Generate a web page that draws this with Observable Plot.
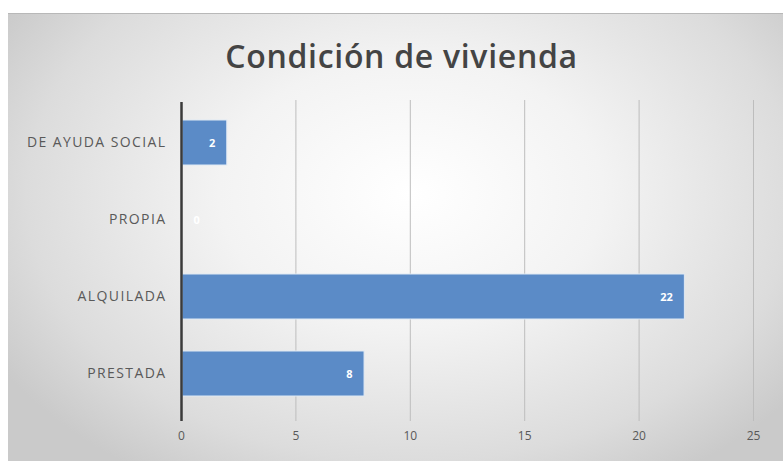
<!DOCTYPE html>
<html>
<head>
<meta charset="utf-8">
<script src="https://cdn.jsdelivr.net/npm/d3@7"></script>
<script src="https://cdn.jsdelivr.net/npm/@observablehq/plot@0.6"></script>
<style>
  html, body { margin: 0; padding: 0; background: #ffffff; }
  #frame {
    position: absolute; left: 8px; top: 13px; width: 775px; height: 448px;
    border-top: 1px solid #b8b8b8;
    background: radial-gradient(ellipse 62% 75% at 52% 40%, #ffffff 0%, #f3f3f3 40%, #dcdcdc 80%, #cacaca 100%);
    overflow: hidden;
  }
  #title {
    height: 66px; box-sizing: border-box; padding-top: 24px;
    text-align: center; font-family: "Open Sans", sans-serif; font-size: 32px;
    font-weight: 600;
    color: #444444; letter-spacing: 0.7px; line-height: 36px;
    padding-left: 12px;
  }
  #chart { position: absolute; left: -8px; top: 66px; }
  #chart svg g[aria-label="y-axis tick label"] text { letter-spacing: 1.4px; }
</style>
</head>
<body>
<div id="frame">
  <div id="title">Condición de vivienda</div>
  <div id="chart"></div>
</div>
<script>
const categories = ["DE AYUDA SOCIAL", "PROPIA", "ALQUILADA", "PRESTADA"];
const values = [2, 0, 22, 8];
const xTicks = [0, 5, 10, 15, 20, 25];

const data = categories.map((c, i) => ({category: c, value: values[i]}));

const chart = Plot.plot({
  width: 783,
  height: 382,
  marginTop: 22,
  marginBottom: 49,
  marginLeft: 181,
  marginRight: 30,
  style: {background: "transparent", fontFamily: "Open Sans, sans-serif", color: "#595959"},
  x: {domain: [0, 25], ticks: xTicks, label: null},
  y: {domain: categories, label: null, paddingInner: 0.42, paddingOuter: 0.21},
  marks: [
    Plot.ruleX(xTicks.filter(d => d > 0), {stroke: "#bdbdbd", strokeWidth: 1, insetTop: -2, insetBottom: -8}),
    Plot.barX(data, {y: "category", x: "value", fill: "#5b8bc7", stroke: "#dfe9f4", strokeWidth: 1, insetLeft: 1}),
    Plot.ruleX([0], {stroke: "#3a3a3a", strokeWidth: 2.5, insetBottom: -8}),
    Plot.text(data.filter(d => d.value > 0), {y: "category", x: "value", text: d => String(d.value), textAnchor: "end", dx: -12, fill: "white", fontWeight: "bold", fontSize: 11}),
    Plot.text(data.filter(d => d.value === 0), {y: "category", x: "value", text: d => String(d.value), textAnchor: "start", dx: 12, fill: "white", fontWeight: "bold", fontSize: 11}),
    Plot.axisX({ticks: xTicks, tickSize: 0, tickPadding: 18, fontSize: 12, fill: "#595959", label: null}),
    Plot.axisY({tickSize: 0, tickPadding: 15, fontSize: 14, fill: "#595959", label: null})
  ]
});
document.getElementById("chart").appendChild(chart);
</script>
</body>
</html>
